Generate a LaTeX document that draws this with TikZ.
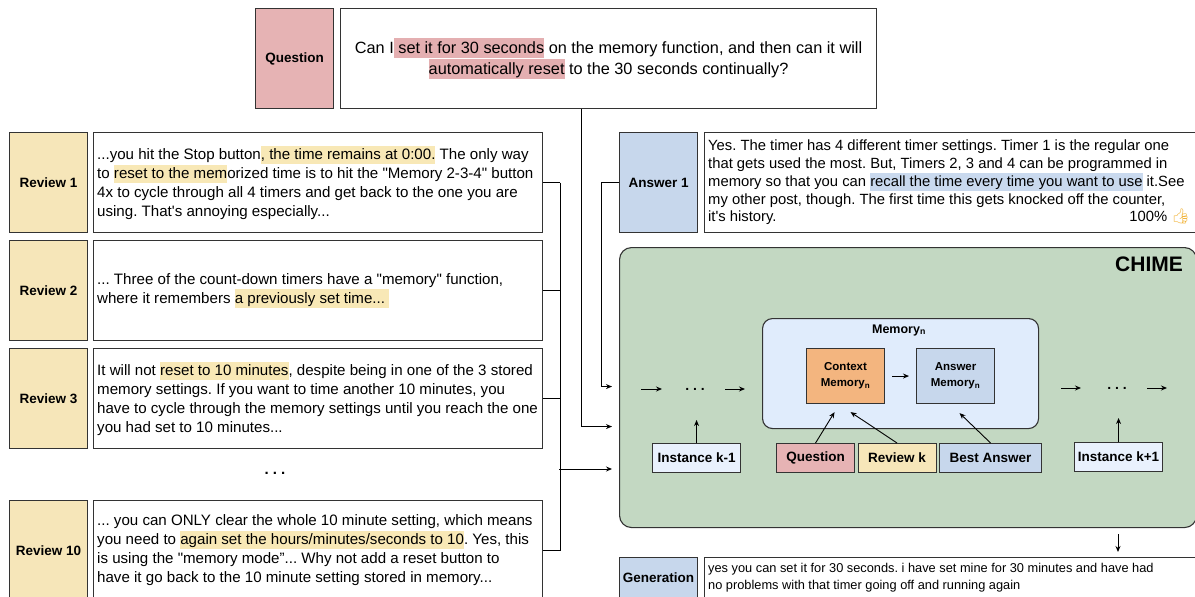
\documentclass[tikz,border=0pt]{standalone}
\usepackage{fontspec}
\setmainfont{Liberation Sans}
\newfontfamily\arialf{Liberation Sans}
\newfontfamily\emojifont{Noto Emoji}
\usetikzlibrary{arrows.meta}
\definecolor{qpink}{HTML}{E6B3B4}
\definecolor{ryellow}{HTML}{F6E6B9}
\definecolor{ablue}{HTML}{C7D7EC}
\definecolor{chgreen}{HTML}{C3D8C2}
\definecolor{memblue}{HTML}{E0ECFC}
\definecolor{ctxorange}{HTML}{F3B57F}
\definecolor{instblue}{HTML}{E9F1FD}
\definecolor{edge}{HTML}{333333}
\definecolor{hlpink}{HTML}{E4AFB1}
\definecolor{hlyellow}{HTML}{F8E8B6}
\definecolor{hlblue}{HTML}{C9D9EE}
\definecolor{thumb}{HTML}{F2B53C}
\newcommand{\hlc}[2]{{\setlength{\fboxsep}{0pt}\colorbox{#1}{\rule[-0.3em]{0pt}{1.22em}#2}}}
\frenchspacing
\begin{document}
\begin{tikzpicture}[x=1pt,y=-1pt,
  box/.style={draw=edge, line width=1.1pt, inner sep=0pt, anchor=north west},
  lab/.style={box, font=\arialf\bfseries\fontsize{13.5}{15}\selectfont},
  body/.style={anchor=west, inner sep=0pt, align=left, font=\arialf\fontsize{15.1}{19}\selectfont},
  small/.style={box, font=\arialf\bfseries\fontsize{13.5}{15}\selectfont, minimum height=29pt},
  dotsn/.style={font=\arialf\bfseries\fontsize{14}{14}\selectfont, inner sep=0pt},
  arr/.style={-{Stealth[length=6pt,width=5pt]}, line width=0.9pt, draw=black},
  conn/.style={line width=0.9pt, draw=black},
]
\useasboundingbox (0,0) rectangle (1195,597);
\clip (0,0) rectangle (1195,597);
\fill[white] (0,0) rectangle (1195,597);

% Question
\node[lab, fill=qpink, minimum width=78pt, minimum height=100pt] (qlab) at (255,8) {Question};
\node[box, fill=white, minimum width=536pt, minimum height=100pt] (qbox) at (340,8) {};
\node[align=center, inner sep=0pt, font=\arialf\fontsize{16.3}{21}\selectfont] (qtxt) at (qbox.center)
 {Can I\hlc{hlpink}{ set it for 30 seconds} on the memory function, and then can it will\\
  \hlc{hlpink}{automatically reset} to the 30 seconds continually?};

% Reviews
\node[lab, fill=ryellow, minimum width=78pt, minimum height=100pt] (r1lab) at (9,132) {Review 1};
\node[box, fill=white, minimum width=449pt, minimum height=100pt] (r1) at (93,132) {};
\node[body] (r1t) at ([xshift=4pt]r1.west)
 {...you hit the Stop button\hlc{hlyellow}{, the time remains at 0:00.} The only way\\
  to \hlc{hlyellow}{reset to the mem}orized time is to hit the "Memory 2-3-4" button\\
  4x to cycle through all 4 timers and get back to the one you are\\
  using. That's annoying especially...};

\node[lab, fill=ryellow, minimum width=78pt, minimum height=100pt] (r2lab) at (9,240) {Review 2};
\node[box, fill=white, minimum width=449pt, minimum height=100pt] (r2) at (93,240) {};
\node[body] (r2t) at ([xshift=4pt]r2.west)
 {... Three of the count-down timers have a "memory" function,\\
  where it remembers \hlc{hlyellow}{a previously set time... }};

\node[lab, fill=ryellow, minimum width=78pt, minimum height=100pt] (r3lab) at (9,348) {Review 3};
\node[box, fill=white, minimum width=449pt, minimum height=100pt] (r3) at (93,348) {};
\node[body] (r3t) at ([xshift=4pt]r3.west)
 {It will not \hlc{hlyellow}{reset to 10 minutes}, despite being in one of the 3 stored\\
  memory settings. If you want to time another 10 minutes, you\\
  have to cycle through the memory settings until you reach the one\\
  you had set to 10 minutes...};

\node[dotsn, font=\arialf\bfseries\fontsize{15}{15}\selectfont] (rdots) at (275,473) {. . .};

\node[lab, fill=ryellow, minimum width=78pt, minimum height=100pt] (r10lab) at (9,500) {Review 10};
\node[box, fill=white, minimum width=449pt, minimum height=100pt] (r10) at (93,500) {};
\node[body] (r10t) at ([xshift=4pt]r10.west)
 {... you can ONLY clear the whole 10 minute setting, which means\\
  you need to \hlc{hlyellow}{again set the hours/minutes/seconds to 10}. Yes, this\\
  is using the "memory mode”... Why not add a reset button to\\
  have it go back to the 10 minute setting stored in memory...};

% Answer 1
\node[lab, fill=ablue, minimum width=78pt, minimum height=100pt] (alab) at (619,132) {Answer 1};
\node[box, fill=white, minimum width=500pt, minimum height=100pt] (abox) at (704,132) {};
\node[body, font=\arialf\fontsize{14.8}{17.8}\selectfont] (atxt) at ([xshift=4pt]abox.west)
 {Yes. The timer has 4 different timer settings. Timer 1 is the regular one\\
  that gets used the most. But, Timers 2, 3 and 4 can be programmed in\\
  memory so that you can \hlc{hlblue}{recall the time every time you want to use} it.See\\
  my other post, though. The first time this gets knocked off the counter,\\
  \makebox[482pt][l]{it's history.\hfill 100\%~{\emojifont\textcolor{thumb}{👍}}}};

% CHIME
\node[box, fill=chgreen, rounded corners=12pt, minimum width=577pt, minimum height=280pt] (chime) at (619,247) {};
\node[font=\arialf\bfseries\fontsize{21}{24}\selectfont] (chtitle) at (1149,264) {CHIME};

\node[box, fill=memblue, rounded corners=10pt, minimum width=276pt, minimum height=110pt] (mem) at (762,318) {};
\node[font=\arialf\bfseries\fontsize{12.5}{14}\selectfont] (memt) at (899,330) {Memory\textsubscript{n}};
\node[box, fill=ctxorange, minimum width=78pt, minimum height=55pt, align=center,
      font=\arialf\bfseries\fontsize{11.5}{16}\selectfont] (ctx) at (806,348) {Context\\Memory\textsubscript{n}};
\node[box, fill=ablue, minimum width=78pt, minimum height=55pt, align=center,
      font=\arialf\bfseries\fontsize{11.5}{16}\selectfont] (amem) at (916,348) {Answer\\Memory\textsubscript{n}};
\draw[arr] ([xshift=7pt]ctx.east) -- ([xshift=-7pt]amem.west);

\node[small, fill=instblue, minimum width=88pt] (ikm) at (652,443) {Instance k-1};
\node[small, fill=instblue, minimum width=88pt] (ikp) at (1074,442) {Instance k+1};
\node[small, fill=qpink, minimum width=78pt] (qk) at (776,443) {Question};
\node[small, fill=ryellow, minimum width=78pt] (rk) at (857.5,443) {Review k};
\node[small, fill=ablue, minimum width=102pt] (bk) at (939,443) {Best Answer};

\draw[arr] (qk.north) -- ([xshift=-11pt,yshift=-8pt]ctx.south);
\draw[arr] (rk.north) -- ([xshift=5pt,yshift=-8pt]ctx.south);
\draw[arr] (bk.north) -- ([xshift=4pt,yshift=-9pt]amem.south);

% flow left
\coordinate (la1) at (641,389);
\coordinate (la2) at (662,389);
\coordinate (la3) at (725,389);
\coordinate (la4) at (745,389);
\node[dotsn] (dl) at (695,389) {. . .};
\draw[arr] (la1) -- (la2);
\draw[arr] (la3) -- (la4);
\draw[arr] (ikm.north) -- ++(0,-23);
% flow right
\coordinate (ra1) at (1061,388);
\coordinate (ra2) at (1081,388);
\coordinate (ra3) at (1147,388);
\coordinate (ra4) at (1167,388);
\node[dotsn] (dr) at (1117,388) {. . .};
\draw[arr] (ra1) -- (ra2);
\draw[arr] (ra3) -- (ra4);
\draw[arr] (ikp.north) -- ++(0,-24);

% Generation
\node[lab, fill=ablue, minimum width=78pt, minimum height=40pt] (glab) at (619,557) {Generation};
\node[box, fill=white, minimum width=500pt, minimum height=39.5pt] (gbox) at (704,557) {};
\node[body, font=\arialf\fontsize{12.8}{17}\selectfont] (gtxt) at ([xshift=4pt]gbox.west)
 {yes you can set it for 30 seconds. i have set mine for 30 minutes and have had\\
  no problems with that timer going off and running again};
\coordinate (cb1) at (1118,534);
\coordinate (cb2) at (1118,552);
\draw[arr] (cb1) -- (cb2);

% connectors into CHIME
\draw[arr, shorten >=7pt] ([xshift=-27pt]qbox.south) |- ([yshift=-39pt]chime.west);
\draw[arr, shorten >=7pt] (alab.west) -- ++(-18,0) |- ([yshift=1pt]chime.west);
\draw[conn] (r1.east) -- ++(17,0) coordinate (b1);
\draw[conn] (r2.east) -- ++(17,0);
\draw[conn] (r3.east) -- ++(17,0);
\draw[conn] (r10.east) -- ++(17,0) coordinate (b10);
\draw[conn] (b1) -- (b10);
\coordinate (bj) at (559,469);
\draw[arr, shorten >=7pt] (bj) -- (bj -| chime.west);
\end{tikzpicture}
\end{document}
